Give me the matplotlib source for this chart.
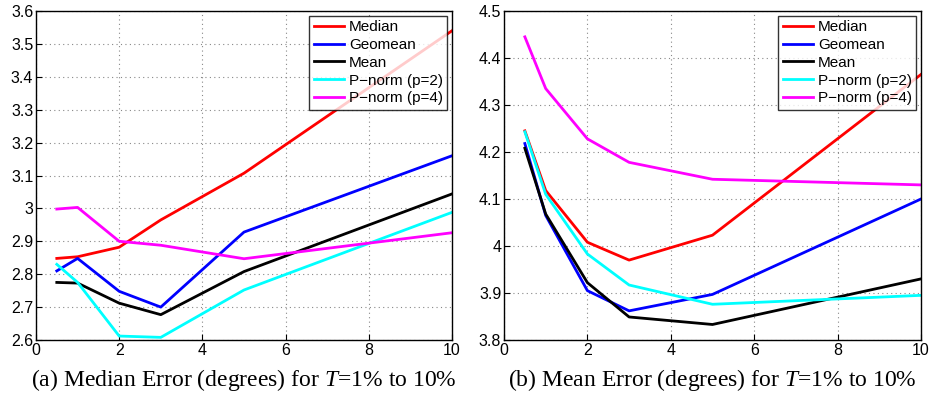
import matplotlib
matplotlib.use("Agg")
import matplotlib.pyplot as plt

plt.rcParams['font.family'] = ['Liberation Sans', 'DejaVu Sans']
plt.rcParams['mathtext.fontset'] = 'custom'
plt.rcParams['mathtext.rm'] = 'Liberation Serif'
plt.rcParams['mathtext.it'] = 'Liberation Serif:italic'

x_vals = [0.5, 1, 2, 3, 5, 10]
labels = ["Median", "Geomean", "Mean", "P\u2212norm (p=2)", "P\u2212norm (p=4)"]
colors = ["#ff0000", "#0000ff", "#000000", "#00ffff", "#ff00ff"]

# (a) median error
median_err_median = [2.848, 2.853, 2.882, 2.965, 3.107, 3.540]
median_err_geomean = [2.810, 2.848, 2.748, 2.700, 2.928, 3.160]
median_err_mean = [2.775, 2.773, 2.712, 2.677, 2.808, 3.044]
median_err_p2 = [2.830, 2.775, 2.612, 2.608, 2.752, 2.988]
median_err_p4 = [2.998, 3.003, 2.900, 2.888, 2.847, 2.926]

# (b) mean error
mean_err_median = [4.245, 4.118, 4.008, 3.970, 4.023, 4.365]
mean_err_geomean = [4.218, 4.065, 3.905, 3.862, 3.897, 4.100]
mean_err_mean = [4.208, 4.068, 3.922, 3.849, 3.833, 3.930]
mean_err_p2 = [4.243, 4.110, 3.983, 3.917, 3.876, 3.895]
mean_err_p4 = [4.445, 4.335, 4.228, 4.178, 4.142, 4.130]

fig = plt.figure(figsize=(9.31, 4.01), dpi=100)
W, H = 931, 401
ax1 = fig.add_axes([36 / W, 1 - 340 / H, (452 - 36) / W, (340 - 11) / H])
ax2 = fig.add_axes([504 / W, 1 - 340 / H, (921 - 504) / W, (340 - 11) / H])


def draw(ax, series, ylim, yticks, caption):
    for ys, lab, c in zip(series, labels, colors):
        ax.plot(x_vals, ys, color=c, lw=2, label=lab)
    ax.set_xlim(0, 10)
    ax.set_ylim(*ylim)
    ax.set_xticks([0, 2, 4, 6, 8, 10])
    ax.set_yticks(yticks)
    ax.set_yticklabels([f"{t:g}" for t in yticks])
    ax.grid(True, linestyle=(0, (1, 3)), color="#888888", lw=0.8)
    ax.tick_params(labelsize=11.5, direction="in", length=4, pad=2)
    for s in ax.spines.values():
        s.set_linewidth(1.0)
    leg = ax.legend(loc="upper right", fontsize=11, frameon=True, fancybox=False,
                    edgecolor="black", handlelength=2.0, borderaxespad=0.3,
                    labelspacing=0.25, borderpad=0.3, handletextpad=0.3)
    leg.get_frame().set_linewidth(1.0)
    ax.text(0.5, -0.122, caption, transform=ax.transAxes, ha="center", va="center",
            fontsize=17, family="Liberation Serif")


draw(ax1, [median_err_median, median_err_geomean, median_err_mean, median_err_p2, median_err_p4],
     (2.6, 3.6), [2.6, 2.7, 2.8, 2.9, 3.0, 3.1, 3.2, 3.3, 3.4, 3.5, 3.6],
     "(a) Median Error (degrees) for $T$=1% to 10%")
draw(ax2, [mean_err_median, mean_err_geomean, mean_err_mean, mean_err_p2, mean_err_p4],
     (3.8, 4.5), [3.8, 3.9, 4.0, 4.1, 4.2, 4.3, 4.4, 4.5],
     "(b) Mean Error (degrees) for $T$=1% to 10%")

fig.savefig("out.png", dpi=100)
